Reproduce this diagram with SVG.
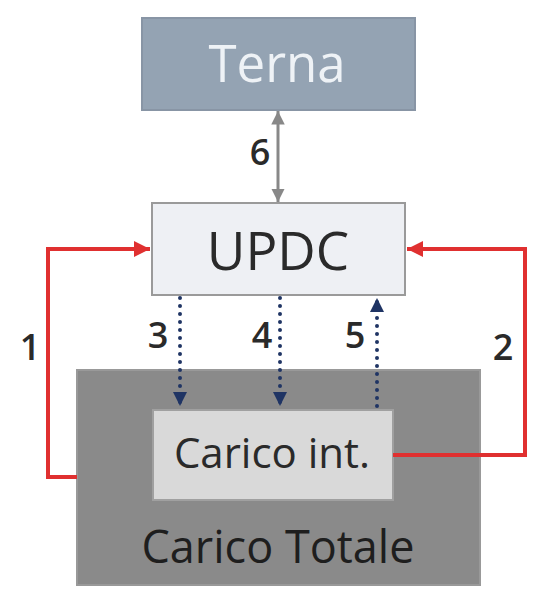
<svg xmlns="http://www.w3.org/2000/svg" width="559" height="590" viewBox="0 0 559 590">
<style>
.lbl{font-family:"Open Sans","Noto Sans",sans-serif;fill:#2a2a2a;text-anchor:middle}
.num{font-weight:600}
.red{stroke:#e03030;stroke-width:4;fill:none}
.dot{stroke:#1f3464;stroke-width:4;stroke-linecap:round;stroke-dasharray:0 8;fill:none}
</style>
<defs>
<marker id="ar" viewBox="0 0 10 10" refX="10" refY="5" markerWidth="4" markerHeight="4" orient="auto" markerUnits="strokeWidth"><path d="M0,0L10,5L0,10z" fill="#e03030"/></marker>
<marker id="ad" viewBox="0 0 10 10" refX="10" refY="5" markerWidth="3.5" markerHeight="3.5" orient="auto" markerUnits="strokeWidth"><path d="M0,0L10,5L0,10z" fill="#1f3464"/></marker>
<marker id="ag" viewBox="0 0 10 10" refX="10" refY="5" markerWidth="4.5" markerHeight="4.5" orient="auto-start-reverse" markerUnits="strokeWidth"><path d="M0,0L10,5L0,10z" fill="#888"/></marker>
</defs>
<rect width="559" height="590" fill="#fff"/>
<g id="carico-totale">
<rect x="77" y="370" width="403" height="215" fill="#8a8a8a" stroke="#999" stroke-width="2"/>
<text class="lbl" x="278" y="563" font-size="45" style="fill:#1e1e1e">Carico Totale</text>
</g>
<g id="terna">
<rect x="142" y="18" width="273" height="92" fill="#94a3b3" stroke="#8895a5" stroke-width="2"/>
<text class="lbl" x="277" y="82" font-size="51" style="fill:#eef2f6">Terna</text>
</g>
<g id="updc">
<rect x="152" y="203" width="253" height="92" fill="#eef0f4" stroke="#9a9a9a" stroke-width="2"/>
<text class="lbl" x="278" y="270" font-size="53">UPDC</text>
</g>
<g id="carico-int">
<rect x="153" y="410" width="240" height="90" fill="#d9d9d9" stroke="#a0a0a0" stroke-width="2"/>
<text class="lbl" x="272" y="468" font-size="42">Carico int.</text>
</g>
<g id="connectors">
<line x1="278" y1="111" x2="278" y2="202" stroke="#888" stroke-width="3" marker-start="url(#ag)" marker-end="url(#ag)"/>
<polyline class="red" points="77,477 48,477 48,249 150,249" marker-end="url(#ar)"/>
<polyline class="red" points="393,455 525,455 525,249 407,249" marker-end="url(#ar)"/>
<line class="dot" x1="180" y1="298" x2="180" y2="406" marker-end="url(#ad)"/>
<line class="dot" x1="280" y1="298" x2="280" y2="406" marker-end="url(#ad)"/>
<line class="dot" x1="377" y1="406" x2="377" y2="298" marker-end="url(#ad)"/>
</g>
<g id="labels">
<text class="lbl num" x="260" y="165" font-size="36">6</text>
<text class="lbl num" x="30" y="360" font-size="36">1</text>
<text class="lbl num" x="503" y="360" font-size="36">2</text>
<text class="lbl num" x="158" y="348" font-size="36">3</text>
<text class="lbl num" x="262" y="348" font-size="36">4</text>
<text class="lbl num" x="355" y="348" font-size="36">5</text>
</g>
</svg>
